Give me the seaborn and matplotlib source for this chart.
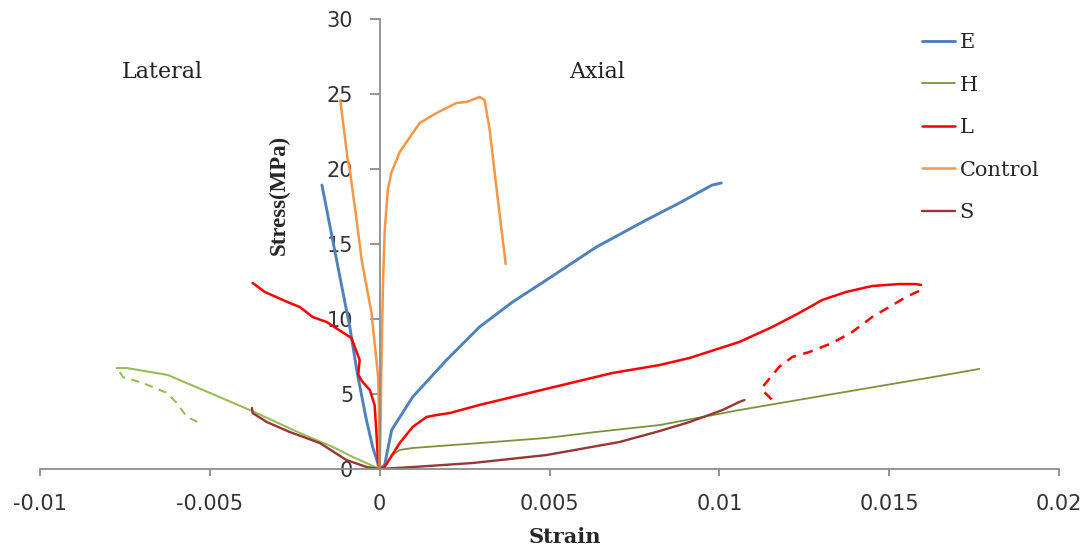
import numpy as np
import pandas as pd
import seaborn as sns
import matplotlib.pyplot as plt

# stress (MPa) vs strain
e_ax_strain = [0, 0.000147, 0.000235, 0.000353, 0.00097, 0.00197, 0.00294, 0.00391, 0.00491,
               0.00638, 0.00785, 0.00882, 0.00979, 0.01006]
e_ax_stress = [0, 0.27, 1.27, 2.6, 4.8, 7.27, 9.47, 11.13, 12.6, 14.8, 16.6, 17.73, 18.93, 19.07]
e_lat_strain = [0, -0.000206, -0.00039, -0.00065, -0.00088, -0.0013, -0.0017]
e_lat_stress = [0, 1.47, 3.27, 6.27, 9.47, 14.3, 18.93]

h_ax_strain = [0, 0.000147, 0.00038, 0.00059, 0.00097, 0.00294, 0.00491, 0.00638, 0.00824,
               0.01059, 0.01353, 0.01647, 0.01765]
h_ax_stress = [0, 0.13, 0.93, 1.27, 1.4, 1.73, 2.07, 2.47, 2.93, 3.93, 5.07, 6.2, 6.67]
h_lat_strain = [0, -0.00079, -0.00138, -0.00235, -0.00382, -0.00624, -0.00744, -0.00774]
h_lat_stress = [0, 0.8, 1.47, 2.4, 3.93, 6.27, 6.73, 6.73]
h_lat_unload_strain = [-0.00765, -0.00756, -0.00697, -0.00626, -0.00597, -0.00568, -0.00529]
h_lat_unload_stress = [6.47, 6.13, 5.73, 5.07, 4.4, 3.47, 3.07]

l_ax_strain = [0, 0.000147, 0.00059, 0.00097, 0.00138, 0.00168, 0.00206, 0.00294, 0.00391,
               0.00538, 0.00685, 0.00824, 0.00912, 0.01059, 0.01156, 0.01235, 0.01303,
               0.01373, 0.0145, 0.01529, 0.01579, 0.01594]
l_ax_stress = [0, 0.15, 1.73, 2.8, 3.47, 3.6, 3.73, 4.27, 4.8, 5.6, 6.4, 6.93, 7.4, 8.47, 9.47,
               10.4, 11.27, 11.8, 12.2, 12.33, 12.33, 12.27]
l_ax_unload_strain = [0.01588, 0.0155, 0.0145, 0.01391, 0.01332, 0.01265, 0.01215, 0.01176,
                      0.01132, 0.01126, 0.01156]
l_ax_unload_stress = [11.87, 11.47, 10.13, 9.13, 8.4, 7.8, 7.47, 6.8, 5.6, 5.27, 4.6]
l_lat_strain = [0, -0.00005, -0.0001, -0.00015, -0.00029, -0.0005, -0.00063, -0.00059,
                -0.00083, -0.00156, -0.00197, -0.00235, -0.00265, -0.00338, -0.00374]
l_lat_stress = [0, 0.6, 2.6, 4.27, 5.27, 5.8, 6.27, 7.27, 8.73, 9.8, 10.13, 10.8, 11.07, 11.8, 12.4]

c_ax_strain = [0, 0.00003, 0.00006, 0.0001, 0.00015, 0.00024, 0.00034, 0.00059, 0.00118,
               0.00167, 0.00226, 0.00256, 0.00294, 0.00309, 0.00324, 0.00347, 0.00371]
c_ax_stress = [0, 3.27, 7.93, 12.6, 15.93, 18.6, 19.73, 21.13, 23.07, 23.73, 24.4, 24.47, 24.8,
               24.6, 22.6, 18.13, 13.67]
c_lat_strain = [0, -0.000015, -0.000044, -0.00024, -0.00053, -0.00069, -0.00088, -0.00094, -0.00116]
c_lat_stress = [0, 3.27, 6.13, 10.4, 13.93, 16.8, 19.93, 20.6, 24.6]

s_ax_strain = [0, 0.00097, 0.00274, 0.00491, 0.00706, 0.00824, 0.00912, 0.01009, 0.01059, 0.01074]
s_ax_stress = [0, 0.13, 0.4, 0.93, 1.8, 2.53, 3.13, 3.93, 4.47, 4.6]
s_lat_strain = [0, -0.00038, -0.00098, -0.00176, -0.00265, -0.00332, -0.00374, -0.00376]
s_lat_stress = [0, 0.13, 0.6, 1.73, 2.47, 3.13, 3.73, 4.07]

x_ticks = [-0.01, -0.005, 0, 0.005, 0.01, 0.015, 0.02]
x_tick_labels = ['-0.01', '-0.005', '0', '0.005', '0.01', '0.015', '0.02']
y_ticks = [0, 5, 10, 15, 20, 25, 30]

colors = {'E': '#4F81BD', 'H': '#77933C', 'H_lat': '#9BBB59', 'L': '#FF0000',
          'Control': '#F79646', 'S': '#953735'}

sns.set_style('white')
plt.rcParams['font.family'] = ['DejaVu Sans']

fig = plt.figure(figsize=(10.9, 5.47), dpi=100)
ax = fig.add_axes([40 / 1090, 78 / 547, 1019 / 1090, 450 / 547])


def curve(x, y, color, lw, label=None, dashed=False):
    sns.lineplot(x=x, y=y, ax=ax, color=color, linewidth=lw, sort=False, estimator=None,
                 label=label, linestyle=(0, (4, 3)) if dashed else '-')


# axial branches carry the legend labels
curve(e_ax_strain, e_ax_stress, colors['E'], 2.1, 'E')
curve(h_ax_strain, h_ax_stress, colors['H'], 1.3, 'H')
curve(l_ax_strain, l_ax_stress, colors['L'], 1.8, 'L')
curve(c_ax_strain, c_ax_stress, colors['Control'], 1.8, 'Control')
curve(s_ax_strain, s_ax_stress, colors['S'], 1.7, 'S')

curve(l_ax_unload_strain, l_ax_unload_stress, colors['L'], 1.8, dashed=True)
curve(e_lat_strain, e_lat_stress, colors['E'], 2.1)
curve(h_lat_strain, h_lat_stress, colors['H_lat'], 1.5)
curve(h_lat_unload_strain, h_lat_unload_stress, colors['H_lat'], 1.5, dashed=True)
curve(l_lat_strain, l_lat_stress, colors['L'], 1.8)
curve(c_lat_strain, c_lat_stress, colors['Control'], 1.8)
curve(s_lat_strain, s_lat_stress, colors['S'], 1.7)

ax.set_xlim(-0.01, 0.02)
ax.set_ylim(0, 30)
ax.set_xticks(x_ticks)
ax.set_xticklabels(x_tick_labels)
ax.set_yticks(y_ticks)

for side in ['top', 'right']:
    ax.spines[side].set_visible(False)
ax.spines['left'].set_position(('data', 0))
for side in ['left', 'bottom']:
    ax.spines[side].set_color('#8c8c8c')
    ax.spines[side].set_linewidth(1.3)

ax.tick_params(axis='x', bottom=True, direction='out', length=5, width=1.3, color='#8c8c8c',
               labelsize=15, labelcolor='#333333', pad=13)
ax.tick_params(axis='y', left=True, direction='out', length=7, width=1.3, color='#8c8c8c',
               labelsize=15, labelcolor='#333333', pad=12)

ax.set_xlabel('Strain', family='DejaVu Serif', fontweight='bold', fontsize=15)
ax.xaxis.set_label_coords(0.515, -0.128)
ax.set_ylabel('Stress(MPa)', family='Liberation Serif', fontweight='bold', fontsize=16.5)
ax.yaxis.set_label_coords(0.2453, 0.609)

ax.text(-0.00641, 26.47, 'Lateral', family='DejaVu Serif', fontsize=16, color='#222222',
        ha='center', va='center')
ax.text(0.00641, 26.47, 'Axial', family='DejaVu Serif', fontsize=16, color='#222222',
        ha='center', va='center')

ax.legend(loc='upper left', bbox_to_anchor=(922 / 1090, 1 - 33 / 547), bbox_transform=fig.transFigure,
          frameon=False, borderpad=0, borderaxespad=0, handlelength=1.6, handletextpad=0.2,
          labelspacing=1.13, prop={'family': 'DejaVu Serif', 'size': 15})

fig.savefig('out.png', dpi=100)
